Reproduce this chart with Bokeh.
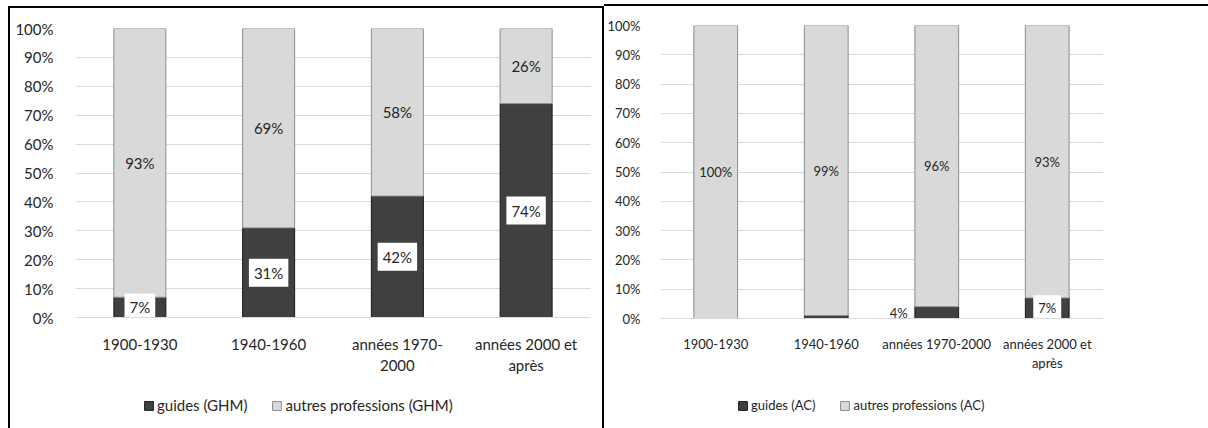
from bokeh.plotting import figure
from bokeh.layouts import row, column
from bokeh.models import (ColumnDataSource, FactorRange, FixedTicker, PrintfTickFormatter,
                          Legend, LegendItem, Range1d, CustomJSTickFormatter)
from bokeh.core.properties import value
from bokeh.embed import file_html
from bokeh.resources import INLINE

# ---- data ----
categories = ["1900-1930", "1940-1960", "années 1970-2000", "années 2000 et après"]
tick_labels_ghm = ["1900-1930", "1940-1960", "années 1970-\n2000", "années 2000 et\naprès"]
tick_labels_ac = ["1900-1930", "1940-1960", "années 1970-2000", "années 2000 et\naprès"]

guides_ghm = [7, 31, 42, 74]
autres_ghm = [93, 69, 58, 26]

guides_ac = [0, 1, 4, 7]
autres_ac = [100, 99, 96, 93]

y_ticks = [0, 10, 20, 30, 40, 50, 60, 70, 80, 90, 100]

DARK = "#404040"
LIGHT = "#d9d9d9"
DARK_LINE = "#1a1a1a"
LIGHT_LINE = "#8c8c8c"
TEXT = "#262626"
FONT = "Lato"


def bar_source(guides, autres):
    tops_a = [g + a for g, a in zip(guides, autres)]
    return ColumnDataSource(dict(x=categories, g=guides, a_top=tops_a))


def make_chart(guides, autres, tick_labels, width, height,
               mb_left, mb_right, mb_top, mb_bottom, bar_w, y_standoff, fs,
               guide_label_show, guide_label_dx, autre_label_show):
    p = figure(x_range=FactorRange(*categories), y_range=Range1d(0, 100),
               width=width, height=height, output_backend="svg",
               toolbar_location=None, min_border_left=mb_left,
               min_border_right=mb_right, min_border_top=mb_top,
               min_border_bottom=mb_bottom, outline_line_color=None,
               background_fill_color="white", border_fill_color="white")

    src = bar_source(guides, autres)
    p.vbar(x="x", bottom=0, top="g", width=bar_w, source=src,
           fill_color=DARK, line_color=DARK_LINE, line_width=1)
    p.vbar(x="x", bottom="g", top="a_top", width=bar_w, source=src,
           fill_color=LIGHT, line_color=LIGHT_LINE, line_width=1)

    # data labels
    gx, gy, gt, gdx = [], [], [], []
    for c, g, show, dx in zip(categories, guides, guide_label_show, guide_label_dx):
        if show:
            gx.append(c); gy.append(g / 2); gt.append(f"{g}%"); gdx.append(dx)
    lsrc = ColumnDataSource(dict(x=gx, y=gy, t=gt, dx=gdx))
    p.text(x="x", y="y", text="t", x_offset="dx", source=lsrc,
           text_align="center", text_baseline="middle",
           text_font=value(FONT), text_font_size=fs, text_color=TEXT,
           background_fill_color="white", padding=5)

    ax_, ay, at = [], [], []
    for c, g, a, show in zip(categories, guides, autres, autre_label_show):
        if show:
            ax_.append(c); ay.append(g + a / 2); at.append(f"{a}%")
    asrc = ColumnDataSource(dict(x=ax_, y=ay, t=at))
    p.text(x="x", y="y", text="t", source=asrc,
           text_align="center", text_baseline="middle",
           text_font=value(FONT), text_font_size=fs, text_color=TEXT)

    # axes
    p.yaxis.ticker = FixedTicker(ticks=y_ticks)
    p.yaxis.formatter = PrintfTickFormatter(format="%d%%")
    p.yaxis.axis_line_color = None
    p.yaxis.major_tick_line_color = None
    p.yaxis.minor_tick_line_color = None
    p.yaxis.major_label_standoff = y_standoff
    p.yaxis.major_label_text_font = FONT
    p.yaxis.major_label_text_font_size = fs
    p.yaxis.major_label_text_color = TEXT

    p.xaxis.formatter = CustomJSTickFormatter(
        args=dict(cats=categories, labs=tick_labels),
        code="const i = cats.indexOf(tick); return i >= 0 ? labs[i] : tick;")
    p.xaxis.axis_line_color = "#d9d9d9"
    p.xaxis.major_tick_line_color = None
    p.xaxis.minor_tick_line_color = None
    p.xaxis.major_label_standoff = 11
    p.xaxis.major_label_text_font = FONT
    p.xaxis.major_label_text_font_size = fs
    p.xaxis.major_label_text_color = TEXT

    p.xgrid.grid_line_color = None
    p.ygrid.grid_line_color = "#d9d9d9"
    p.ygrid.grid_line_width = 1
    return p


def make_legend(guides, autres, name_g, name_a, width, height, loc, fs):
    # legend strip: same bar renderers, but the view window lies above the data,
    # so only the legend swatches show
    q = figure(width=width, height=height, output_backend="svg",
               toolbar_location=None, x_axis_type=None, y_axis_type=None,
               x_range=FactorRange(*categories), y_range=Range1d(1000, 1001),
               min_border=0, outline_line_color=None,
               background_fill_color="white", border_fill_color="white")
    q.grid.visible = False
    src = bar_source(guides, autres)
    r_g = q.vbar(x="x", bottom=0, top="g", width=0.4, source=src,
                 fill_color=DARK, line_color=DARK_LINE, line_width=1)
    r_a = q.vbar(x="x", bottom="g", top="a_top", width=0.4, source=src,
                 fill_color=LIGHT, line_color=LIGHT_LINE, line_width=1)
    legend = Legend(items=[LegendItem(label=name_g, renderers=[r_g], index=0),
                           LegendItem(label=name_a, renderers=[r_a], index=0)],
                    orientation="horizontal", location=loc,
                    label_text_font=FONT, label_text_font_size=fs,
                    label_text_color=TEXT, glyph_width=11, glyph_height=11,
                    label_standoff=3, spacing=24, border_line_color=None,
                    background_fill_alpha=0, padding=0, margin=0)
    q.add_layout(legend, "center")
    return q


left_chart = make_chart(guides_ghm, autres_ghm, tick_labels_ghm,
                        width=592, height=372, mb_left=65, mb_right=12, mb_top=20,
                        mb_bottom=63, bar_w=0.404, y_standoff=16, fs="15px",
                        guide_label_show=[True, True, True, True],
                        guide_label_dx=[0, 0, 0, 0],
                        autre_label_show=[True, True, True, True])
left_legend = make_legend(guides_ghm, autres_ghm,
                          "guides (GHM)", "autres professions (GHM)",
                          width=592, height=48, loc=(68, 14), fs="15px")

right_chart = make_chart(guides_ac, autres_ac, tick_labels_ac,
                         width=604, height=374, mb_left=54, mb_right=106, mb_top=19,
                         mb_bottom=62, bar_w=0.396, y_standoff=14, fs="13px",
                         guide_label_show=[False, False, True, True],
                         guide_label_dx=[0, 0, -38, 0],
                         autre_label_show=[True, True, True, True])
right_legend = make_legend(guides_ac, autres_ac,
                           "guides (AC)", "autres professions (AC)",
                           width=604, height=48, loc=(77, 15), fs="13px")

left_panel = column(left_chart, left_legend, spacing=0,
                    styles={"margin-left": "8px", "margin-top": "6px",
                            "border-top": "2px solid black",
                            "border-left": "2px solid black",
                            "border-right": "2px solid black"})
right_panel = column(right_chart, right_legend, spacing=0,
                     styles={"margin-top": "4px",
                             "border-top": "2px solid black"})

layout = row(left_panel, right_panel, spacing=0)
open("out.html", "w").write(file_html(layout, INLINE))
